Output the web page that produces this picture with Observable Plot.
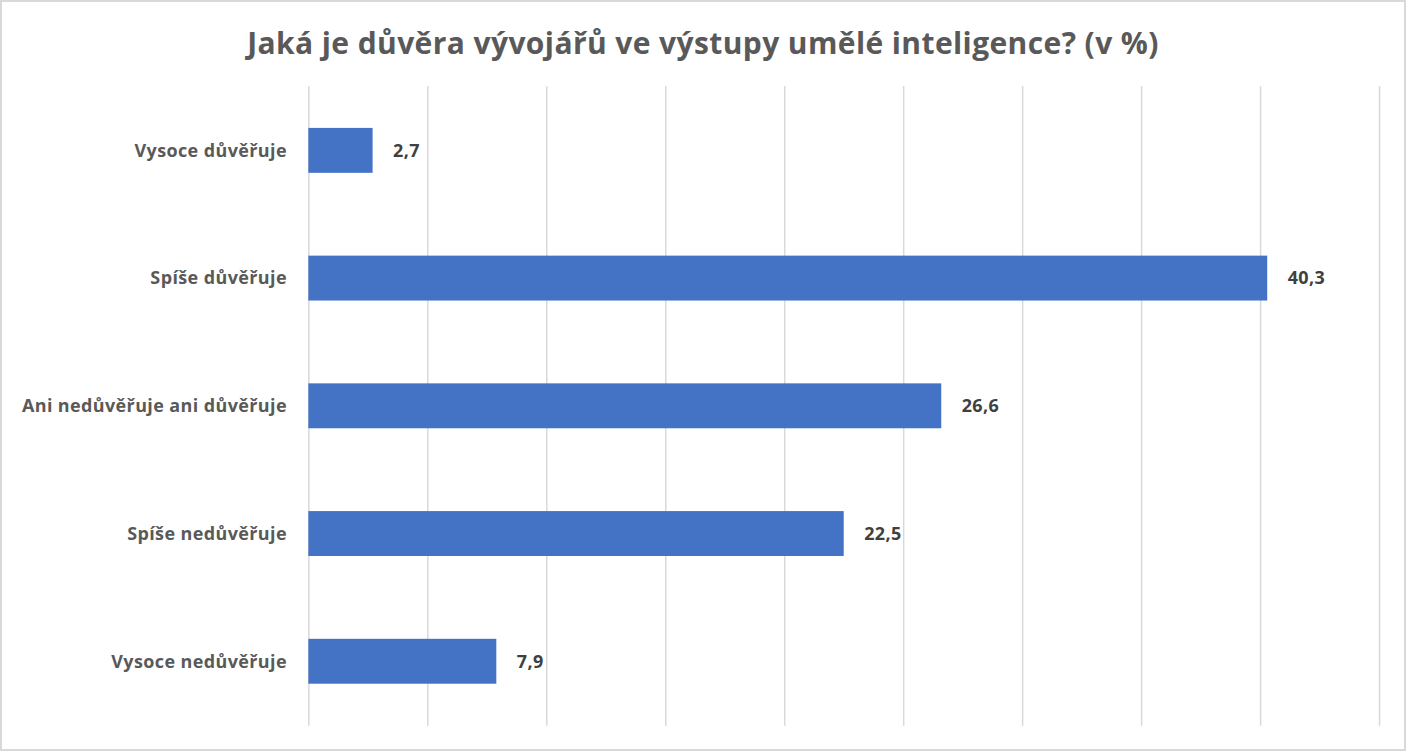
<!DOCTYPE html>
<html>
<head>
<meta charset="utf-8">
<script src="https://cdn.jsdelivr.net/npm/d3@7"></script>
<script src="https://cdn.jsdelivr.net/npm/@observablehq/plot@0.6"></script>
<style>
  html, body { margin: 0; padding: 0; background: #fff; }
  #frame {
    position: absolute; left: 0; top: 0; width: 1406px; height: 751px;
    box-sizing: border-box; border: 2px solid #d9d9d9; background: #fff;
    font-family: "Open Sans", "Noto Sans", sans-serif;
  }
  #title {
    position: absolute; left: 0; top: 20px; width: 100%; text-align: center;
    font-size: 30px; font-weight: 700; color: #595959; letter-spacing: 0.4px;
  }
  #chart { position: absolute; left: -1px; top: 84px; }
  #chart svg text { letter-spacing: 0.4px; }
</style>
</head>
<body>
<div id="frame">
  <div id="title">Jaká je důvěra vývojářů ve výstupy umělé inteligence? (v %)</div>
  <div id="chart"></div>
</div>
<script>
const categories = ["Vysoce důvěřuje", "Spíše důvěřuje", "Ani nedůvěřuje ani důvěřuje", "Spíše nedůvěřuje", "Vysoce nedůvěřuje"];
const values = [2.7, 40.3, 26.6, 22.5, 7.9];
const xTicks = [0, 5, 10, 15, 20, 25, 30, 35, 40, 45];

const data = categories.map((c, i) => ({category: c, value: values[i]}));
const fmt = v => v.toFixed(1).replace(".", ",");

const plot = Plot.plot({
  width: 1406,
  height: 641,
  marginLeft: 308,
  marginRight: 25,
  marginTop: 0,
  marginBottom: 0,
  style: {fontFamily: "'Open Sans', 'Noto Sans', sans-serif", background: "transparent"},
  x: {domain: [0, 45], axis: null},
  y: {domain: categories, paddingInner: 0.65, paddingOuter: 0.325, label: null},
  marks: [
    Plot.ruleX(xTicks, {stroke: "#d9d9d9", strokeWidth: 1.5}),
    Plot.barX(data, {x: "value", y: "category", fill: "#4472c4"}),
    Plot.text(data, {
      x: "value", y: "category", text: d => fmt(d.value),
      textAnchor: "start", dx: 20, fontSize: 18, fontWeight: 700, fill: "#404040"
    }),
    Plot.axisY({
      tickSize: 0, tickPadding: 22, fontSize: 18, fontWeight: 700,
      color: "#595959", label: null
    })
  ]
});
document.getElementById("chart").appendChild(plot);
</script>
</body>
</html>
